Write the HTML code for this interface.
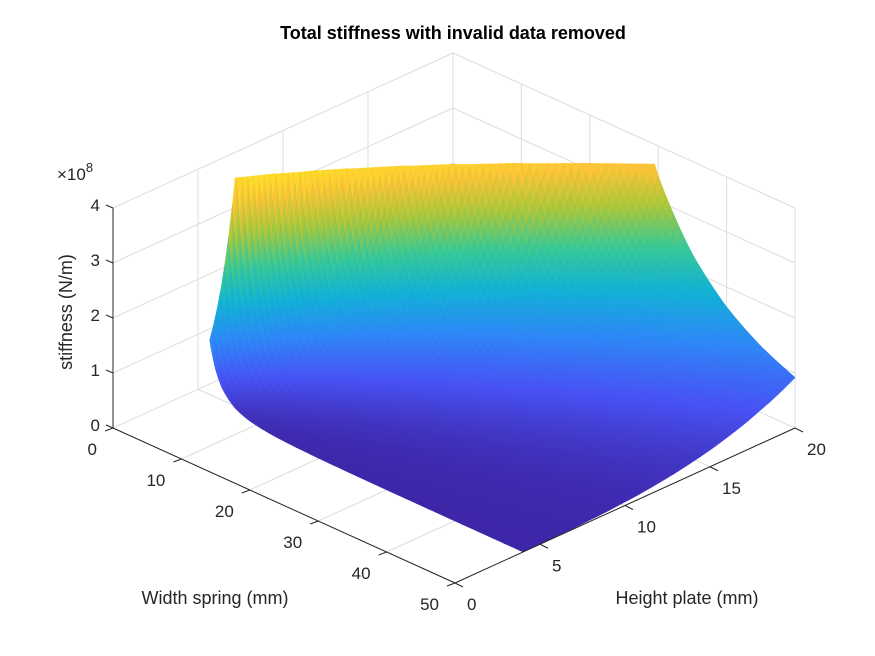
<!DOCTYPE html>
<html><head><meta charset="utf-8"><style>
html,body{margin:0;padding:0;background:#fff;}
svg{display:block;font-family:"Liberation Sans",Arial,sans-serif;}
</style></head><body>
<svg id="chart" width="875" height="656" viewBox="0 0 875 656">
<rect width="875" height="656" fill="#fff"/>
<g id="grid"></g>
<g id="surf"></g>
<g id="axes"></g>
<text x="453" y="39" text-anchor="middle" font-size="18" font-weight="bold" fill="#000">Total stiffness with invalid data removed</text>
<text x="215" y="604" text-anchor="middle" font-size="18" fill="#262626">Width spring (mm)</text>
<text x="687" y="604" text-anchor="middle" font-size="18" fill="#262626">Height plate (mm)</text>
<text transform="translate(72,312) rotate(-90)" text-anchor="middle" font-size="18" fill="#262626">stiffness (N/m)</text>
<text x="57" y="180" font-size="17" fill="#262626">×10<tspan dy="-8" font-size="13">8</tspan></text>
</svg>
<script>
// data (stiffness in units of 1e8 N/m = hFactor[i] * wFactor[j])
const widths  = [4.2, 5, 6, 8, 10, 13, 16, 20, 25, 30, 35, 40, 45, 50];
const wFactor = [1.0, 0.636, 0.396, 0.187, 0.105, 0.0529, 0.0309, 0.0173, 0.00968, 0.00602, 0.00403, 0.00285, 0.0021, 0.0016];
const heights = [4, 6, 8, 10, 12, 14, 16, 18, 20];
const hFactor = [1.27, 5.93, 17.7, 41.3, 82.6, 148, 246, 386, 574];
// validity limit (data above this is removed), per plate height
const validH = [4, 20];
const validZ = [4.05, 3.64];
const widthTicks  = [0, 10, 20, 30, 40, 50];
const heightTicks = [0, 5, 10, 15, 20];
const zTicks      = [0, 1, 2, 3, 4];
const zMax = 4, cMax = 4.2;

const NS = "http://www.w3.org/2000/svg";
function P(w, h, z){ return [113 + w*6.84 + h*17, 428 + w*3.1 - h*7.75 - z*55]; }
function mk(tag, attrs, parent){ const e=document.createElementNS(NS,tag); for(const k in attrs) e.setAttribute(k,attrs[k]); parent.appendChild(e); return e; }
const parula=[[62,38,168],[72,82,244],[46,135,247],[18,177,214],[55,200,151],[171,199,57],[254,195,56],[249,251,21]];
function cmap(t){ t=Math.max(0,Math.min(1,t))*7; const i=Math.min(6,Math.floor(t)), f=t-i, a=parula[i], b=parula[i+1];
  return "rgb("+a.map((v,k)=>Math.round(v+(b[k]-v)*f)).join(",")+")"; }
function limit(h){ const t=(h-validH[0])/(validH[1]-validH[0]); return validZ[0]+(validZ[1]-validZ[0])*t; }

const grid=document.getElementById('grid'), surf=document.getElementById('surf'), axes=document.getElementById('axes');
function line(p,q,parent,col,sw,name){ const l=mk('line',{x1:p[0],y1:p[1],x2:q[0],y2:q[1],stroke:col,'stroke-width':sw},parent);
  
   }
const gc="#dcdcdc";
zTicks.forEach(z=>{ if(z>0){ line(P(0,0,z),P(0,20,z),grid,gc,1,'grid-z-left'); line(P(0,20,z),P(50,20,z),grid,gc,1,'grid-z-right'); } });
heightTicks.forEach(h=>{ line(P(0,h,0),P(0,h,zMax),grid,gc,1,'grid-h-wall'); line(P(0,h,0),P(50,h,0),grid,gc,1,'grid-h-floor'); });
widthTicks.forEach(w=>{ line(P(w,20,0),P(w,20,zMax),grid,gc,1,'grid-w-wall'); line(P(w,0,0),P(w,20,0),grid,gc,1,'grid-w-floor'); });

// surface
const S=9, cells=[];
function zAt(i,j,fi,fj){
  const lh=Math.log(hFactor[i])*(1-fi)+Math.log(hFactor[i+1])*fi;
  const lw=Math.log(wFactor[j])*(1-fj)+Math.log(wFactor[j+1])*fj;
  return Math.exp(lh+lw); }
function posAt(i,j,fi,fj){ return [widths[j]+(widths[j+1]-widths[j])*fj, heights[i]+(heights[i+1]-heights[i])*fi]; }
function g(c){ return Math.log(c[2]) - Math.log(limit(c[1])); } // <=0 valid
function clip(poly){
  const out=[];
  for(let k=0;k<poly.length;k++){
    const A=poly[k], B=poly[(k+1)%poly.length];
    const ga=g(A), gb=g(B);
    if(ga<=0) out.push(A);
    if((ga<=0)!==(gb<=0)){
      const t=ga/(ga-gb);
      const w=A[0]+(B[0]-A[0])*t, h=A[1]+(B[1]-A[1])*t;
      out.push([w, h, limit(h)]);
    }
  }
  return out;
}
for(let i=0;i<heights.length-1;i++) for(let j=0;j<widths.length-1;j++)
 for(let a=0;a<S;a++) for(let b=0;b<S;b++){
  let corners=[[a,b],[a+1,b],[a+1,b+1],[a,b+1]].map(([u,v])=>{const fi=u/S,fj=v/S; const [w,h]=posAt(i,j,fi,fj); return [w,h,zAt(i,j,fi,fj)];});
  if(corners.every(c=>g(c)>0)) continue;
  corners=clip(corners);
  if(corners.length<3) continue;
  const n=corners.length;
  const wc=corners.reduce((s,c)=>s+c[0],0)/n, hc=corners.reduce((s,c)=>s+c[1],0)/n, zc=corners.reduce((s,c)=>s+c[2],0)/n;
  cells.push({corners, depth: hc/20 - wc/50, zc});
 }
cells.sort((p,q)=>q.depth-p.depth);
cells.forEach(c=>{
  const pts=c.corners.map(k=>P(k[0],k[1],k[2]).map(v=>v.toFixed(1)).join(',')).join(' ');
  const col=cmap(c.zc/cMax);
  const poly=mk('polygon',{points:pts,fill:col,stroke:col,'stroke-width':0.6,'stroke-linejoin':'round'},surf);
  
  
});

// axes
const ac="#262626";
line(P(0,0,0),P(0,0,zMax),axes,ac,1,'z-axis-line');
line(P(0,0,0),P(50,0,0),axes,ac,1,'width-axis-line');
line(P(50,0,0),P(50,20,0),axes,ac,1,'height-axis-line');
zTicks.forEach(z=>{ const p=P(0,0,z); line(p,[p[0]-7,p[1]-3],axes,ac,1,'z-tick');
  const t=mk('text',{x:p[0]-13,y:p[1]+3,'text-anchor':'end','font-size':17,fill:ac},axes); t.textContent=z;
  
   });
widthTicks.forEach(w=>{ const p=P(w,0,0); line(p,[p[0]-8,p[1]+3],axes,ac,1,'width-tick');
  const t=mk('text',{x:p[0]-16,y:p[1]+27,'text-anchor':'end','font-size':17,fill:ac},axes); t.textContent=w;
  
   });
heightTicks.forEach(h=>{ const p=P(50,h,0); line(p,[p[0]+8,p[1]+4],axes,ac,1,'height-tick');
  const t=mk('text',{x:p[0]+12,y:p[1]+27,'text-anchor':'start','font-size':17,fill:ac},axes); t.textContent=h;
  
   });
</script>
</body></html>
